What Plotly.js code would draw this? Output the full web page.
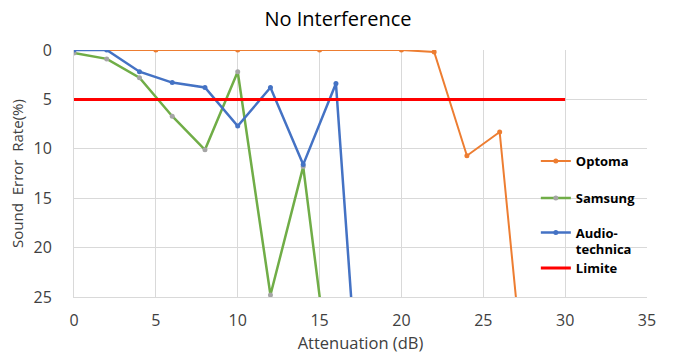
<!DOCTYPE html>
<html>
<head>
<meta charset="utf-8">
<script src="https://cdn.plot.ly/plotly-3.0.1.min.js"></script>
<style>html,body{margin:0;padding:0;background:#fff;}#chart{width:676px;height:360px;}</style>
</head>
<body>
<div id="chart"></div>
<script>
const optomaX = [0, 5, 10, 15, 20, 22, 24, 26, 28];
const optomaY = [0, 0, 0, 0, 0, 0.2, 10.7, 8.3, 42];
const samsungX = [0, 2, 4, 6, 8, 10, 12, 14, 16];
const samsungY = [0.3, 0.9, 2.8, 6.7, 10.1, 2.2, 24.8, 11.8, 38];
const audioX = [0, 2, 4, 6, 8, 10, 12, 14, 16, 18];
const audioY = [0, 0, 2.2, 3.3, 3.8, 7.7, 3.8, 11.6, 3.4, 50];
const limiteX = [0, 30];
const limiteY = [5, 5];
const names = ['Optoma', 'Samsung', 'Audio-<br>technica', 'Limite'];
const xTicks = [0, 5, 10, 15, 20, 25, 30, 35];
const yTicks = [0, 5, 10, 15, 20, 25];

const font = '"Open Sans", sans-serif';
const traces = [
  {x: optomaX, y: optomaY, name: names[0], mode: 'lines+markers', legend: 'legend',
   line: {color: '#ED7D31', width: 2}, marker: {color: '#ED7D31', size: 5}},
  {x: samsungX, y: samsungY, name: names[1], mode: 'lines+markers', legend: 'legend2',
   line: {color: '#70AD47', width: 2.5}, marker: {color: '#A5A5A5', size: 5}},
  {x: audioX, y: audioY, name: names[2], mode: 'lines+markers', legend: 'legend3',
   line: {color: '#4472C4', width: 2.5}, marker: {color: '#4472C4', size: 5}},
  {x: limiteX, y: limiteY, name: names[3], mode: 'lines', legend: 'legend4',
   line: {color: '#FF0000', width: 3}}
];
const legFont = {family: font, size: 13, color: '#000', weight: 'bold'};
function leg(y) {
  return {x: 0.806, y: y, xanchor: 'left', yanchor: 'middle', bgcolor: 'rgba(0,0,0,0)',
          itemwidth: 30, valign: 'top', font: legFont};
}
const layout = {
  width: 676, height: 360,
  margin: {l: 74, r: 29, t: 50, b: 63},
  paper_bgcolor: '#fff', plot_bgcolor: '#fff',
  font: {family: font, color: '#404040', size: 15},
  title: {text: 'No Interference', x: 0.5, xanchor: 'center', y: 0.947, yanchor: 'middle',
          font: {family: font, size: 20, color: '#000'}},
  xaxis: {range: [0, 35], tickvals: xTicks, showgrid: true, gridcolor: '#D9D9D9',
          zeroline: false, showline: true, linecolor: '#D9D9D9', ticks: '',
          tickfont: {size: 16, color: '#404040'}, ticklabelstandoff: 9,
          title: {text: 'Attenuation (dB)', font: {size: 16.5, color: '#404040'}, standoff: 0}},
  yaxis: {range: [25, 0], tickvals: yTicks, showgrid: true, gridcolor: '#D9D9D9',
          zeroline: false, showline: true, linecolor: '#D9D9D9', ticks: '',
          tickfont: {size: 16, color: '#404040'}, ticklabelstandoff: 18,
          title: {text: 'Sound  Error  Rate(%)', font: {size: 15, color: '#404040'}, standoff: 6}},
  shapes: [{type: 'rect', xref: 'paper', yref: 'paper', x0: 0.815, x1: 1, y0: 0, y1: 0.595,
            fillcolor: '#fff', line: {width: 0}, layer: 'between'}],
  showlegend: true,
  legend: leg(0.5506),
  legend2: leg(0.4008),
  legend3: leg(0.2267),
  legend4: leg(0.1174)
};
Plotly.newPlot('chart', traces, layout, {displayModeBar: false, staticPlot: true});
</script>
</body>
</html>
